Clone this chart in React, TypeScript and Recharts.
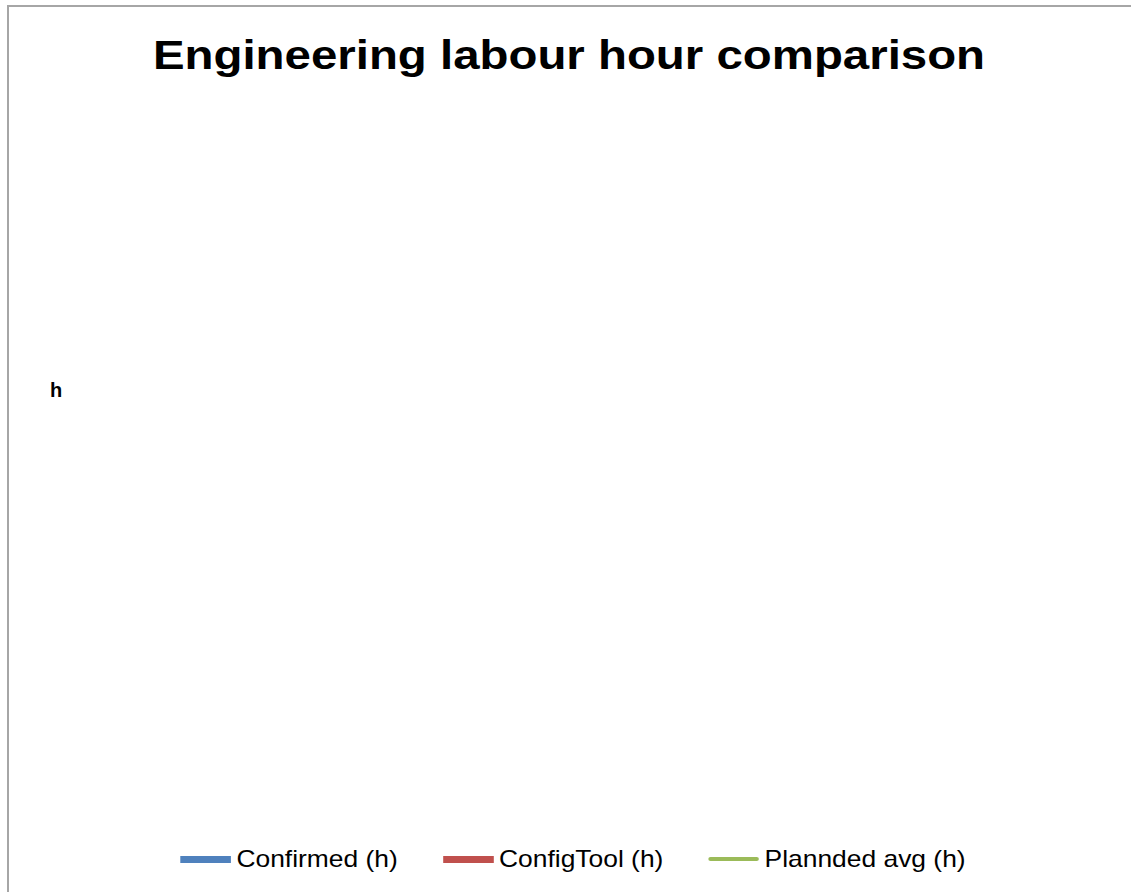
import { Bar, ComposedChart, Legend, Line, XAxis, YAxis } from "recharts";

// the source chart has no rows at all: only title, axis title and legend are shown
const categories: string[] = [];
const confirmed: number[] = [];
const configTool: number[] = [];
const plannedAvg: number[] = [];

const SERIES = [
  { key: "confirmed", name: "Confirmed (h)", color: "#4f81bd", kind: "bar" },
  { key: "configTool", name: "ConfigTool (h)", color: "#c0504d", kind: "bar" },
  { key: "planned", name: "Plannded avg (h)", color: "#9bbb59", kind: "line" },
];

const rows = categories.map((c, i) => ({
  category: c,
  confirmed: confirmed[i],
  configTool: configTool[i],
  planned: plannedAvg[i],
}));

const FONT = '"Liberation Sans", Arial, sans-serif';

function LegendContent(props: any) {
  const payload: any[] = props.payload && props.payload.length ? props.payload : [];
  const items = SERIES.map((s) => {
    const p = payload.find((x) => x.dataKey === s.key);
    return { name: p ? p.value : s.name, color: p ? p.color : s.color, kind: s.kind };
  });
  return (
    <div style={{ height: 206, display: "flex", alignItems: "flex-end" }}>
      <div
        style={{
          width: "100%",
          display: "flex",
          justifyContent: "center",
          alignItems: "center",
          height: 40,
          transform: "translateX(-6px) scaleX(1.1)",
          transformOrigin: "center",
          fontFamily: FONT,
          fontSize: 24,
          lineHeight: "24px",
          color: "#000",
        }}
      >
        {items.map((it, i) => (
          <div
            key={it.name}
            style={{ display: "flex", alignItems: "center", marginLeft: i === 0 ? 0 : 41 }}
          >
            <span
              style={{
                display: "inline-block",
                width: 46,
                height: it.kind === "line" ? 4 : 7,
                borderRadius: it.kind === "line" ? 2 : 0,
                background: it.color,
                marginRight: 5,
              }}
            />
            <span>{it.name}</span>
          </div>
        ))}
      </div>
    </div>
  );
}

export default function App() {
  return (
    <div
      style={{
        position: "absolute",
        left: 0,
        top: 0,
        width: 1131,
        height: 892,
        overflow: "hidden",
        background: "#fff",
      }}
    >
      <div
        style={{
          position: "absolute",
          left: 7,
          top: 5,
          width: 1140,
          height: 900,
          border: "2px solid #a6a6a6",
          boxSizing: "border-box",
        }}
      />
      <div
        style={{
          position: "absolute",
          left: 0,
          top: 35,
          width: 1138,
          textAlign: "center",
          fontFamily: FONT,
          fontWeight: "bold",
          fontSize: 41,
          lineHeight: "41px",
          transform: "scaleX(1.156)",
          transformOrigin: "center",
          whiteSpace: "nowrap",
        }}
      >
        Engineering labour hour comparison
      </div>
      <div style={{ position: "absolute", left: 9, top: 7 }}>
        <ComposedChart
          width={1140}
          height={890}
          data={rows}
          margin={{ top: 100, right: 20, bottom: 18, left: 36 }}
        >
          <XAxis dataKey="category" hide />
          <YAxis
            axisLine={false}
            tickLine={false}
            tick={false}
            width={60}
            label={{
              value: "h",
              angle: 0,
              position: "insideLeft",
              offset: 5,
              style: { fontFamily: FONT, fontSize: 20, fontWeight: "bold", fill: "#000" },
            }}
          />
          <Legend
            verticalAlign="bottom"
            content={<LegendContent />}
            wrapperStyle={{ left: 0, width: 1140 }}
          />
          <Bar dataKey="confirmed" name="Confirmed (h)" fill="#4f81bd" isAnimationActive={false} />
          <Bar dataKey="configTool" name="ConfigTool (h)" fill="#c0504d" isAnimationActive={false} />
          <Line
            dataKey="planned"
            name="Plannded avg (h)"
            stroke="#9bbb59"
            strokeWidth={3}
            dot={false}
            isAnimationActive={false}
          />
        </ComposedChart>
      </div>
    </div>
  );
}
